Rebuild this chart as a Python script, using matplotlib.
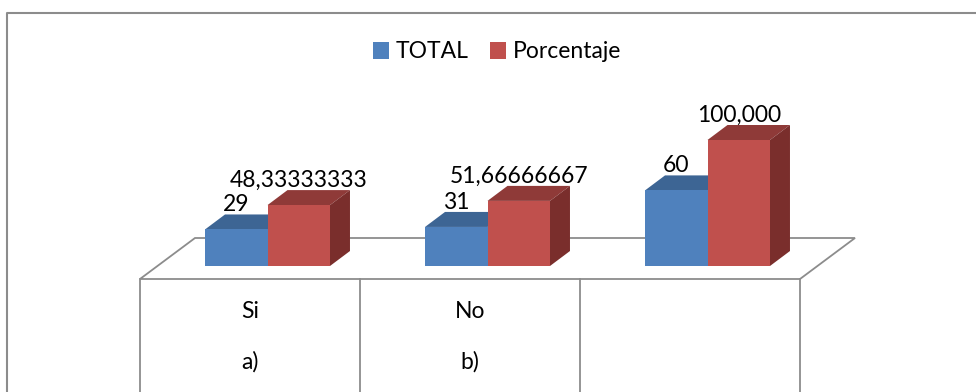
import numpy as np
import matplotlib
matplotlib.use("Agg")
import matplotlib.pyplot as plt
from matplotlib.patches import Polygon, Rectangle
from matplotlib.lines import Line2D

# Data
categories = ["Si", "No", ""]
sub_labels = ["a)", "b)", ""]
total = [29, 31, 60]
porcentaje = [48.33333333, 51.66666667, 100.000]
total_labels = ["29", "31", "60"]
porcentaje_labels = ["48,33333333", "51,66666667", "100,000"]
series_names = ["TOTAL", "Porcentaje"]

# Colours (front, top, side)
BLUE = ("#4F81BD", "#3D6594", "#30507A")
RED = ("#C0504D", "#8F3A38", "#7A2E2C")
LINE = "#8C8C8C"

plt.rcParams['font.family'] = ['Lato', 'DejaVu Sans']
FS = 16.5

W, H = 976, 392
fig = plt.figure(figsize=(W / 100, H / 100), dpi=100)

# bar axes: x in category units, y in data units
base_px = 266          # value 0, px from top
px_per_unit = 1.26
ymax = 120
left_px, group_px = 157.5, 220
ax = fig.add_axes([left_px / W, (H - base_px) / H,
                   group_px * len(categories) / W, ymax * px_per_unit / H])
ax.set_xlim(-0.5, len(categories) - 0.5)
ax.set_ylim(0, ymax)
ax.axis('off')

# 3d look
bar_dx, bar_dy = 20, 15        # bar depth in px
floor_fx, floor_fy = -17.5, -13  # floor front edge relative to bar base
floor_bx, floor_by = 37.5, 28    # floor back edge relative to bar base


def disp(x, y):
    return ax.transData.transform((x, y))


# floor
x0, y0 = disp(-0.5, 0)
x1, _ = disp(len(categories) - 0.5, 0)
floor = [(x0 + floor_fx, y0 + floor_fy), (x1 + floor_fx, y0 + floor_fy),
         (x1 + floor_bx, y0 + floor_by), (x0 + floor_bx, y0 + floor_by)]
ax.add_patch(Polygon(floor, closed=True, facecolor="white", edgecolor=LINE,
                     linewidth=1.3, transform=None, clip_on=False, zorder=1))

# category table under the floor
for i in range(len(categories) + 1):
    xd, yd = disp(i - 0.5, 0)
    ax.add_line(Line2D([xd + floor_fx, xd + floor_fx], [yd + floor_fy, 0],
                       color=LINE, linewidth=1.3, transform=None, clip_on=False, zorder=1))
for i, (cat, sub) in enumerate(zip(categories, sub_labels)):
    xd, yd = disp(i, 0)
    fig.text((xd + floor_fx) / W, (yd - 46) / H, cat, ha='center', va='center',
             fontsize=FS, color="black")
    fig.text((xd + floor_fx) / W, (yd - 96) / H, sub, ha='center', va='center',
             fontsize=FS, color="black")

# bars
w = 0.284
xs = np.arange(len(categories))
for vals, offs, cols, labels in [(total, -w / 2, BLUE, total_labels),
                                 (porcentaje, w / 2, RED, porcentaje_labels)]:
    ax.bar(xs + offs, vals, w, color=cols[0], linewidth=0, clip_on=False, zorder=4)
    for x, v, lab in zip(xs + offs, vals, labels):
        lx, ty = disp(x - w / 2, v)
        rx, by = disp(x + w / 2, 0)
        top = [(lx, ty), (rx, ty), (rx + bar_dx, ty + bar_dy), (lx + bar_dx, ty + bar_dy)]
        side = [(rx, by), (rx, ty), (rx + bar_dx, ty + bar_dy), (rx + bar_dx, by + bar_dy)]
        ax.add_patch(Polygon(top, closed=True, facecolor=cols[1], linewidth=0,
                             transform=None, clip_on=False, zorder=3))
        ax.add_patch(Polygon(side, closed=True, facecolor=cols[2], linewidth=0,
                             transform=None, clip_on=False, zorder=3))
        ax.annotate(lab, (x, v), xytext=(0, 18), textcoords='offset pixels',
                    ha='center', va='baseline', fontsize=FS, color="black",
                    annotation_clip=False, zorder=6)

# legend
handles = [Rectangle((0, 0), 1, 1, facecolor=BLUE[0]),
           Rectangle((0, 0), 1, 1, facecolor=RED[0])]
fig.legend(handles, series_names, loc='center', bbox_to_anchor=(497 / W, 1 - 52 / H),
           ncol=2, frameon=False, fontsize=FS, handlelength=0.7, handleheight=0.7,
           handletextpad=0.3, columnspacing=0.9, borderpad=0)

# outer chart border (left and top edges)
fig.add_artist(Line2D([7 / W, 7 / W, 1], [0, 1 - 13 / H, 1 - 13 / H], color=LINE,
                      linewidth=1.5, transform=fig.transFigure))

fig.savefig("out.png", dpi=100, facecolor="white")
